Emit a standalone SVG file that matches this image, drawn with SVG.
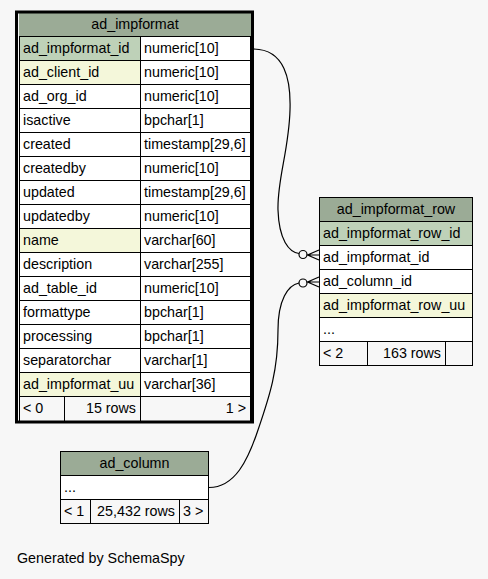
<svg xmlns="http://www.w3.org/2000/svg" width="488" height="579" viewBox="0 0 488 579">
<style>
text{font-family:"Liberation Sans",Arial,sans-serif;font-size:14.3px;fill:#000}
.c{text-anchor:middle}
.e{text-anchor:end}
.hd{fill:#9bab96}
.pk{fill:#bed1b8}
.ix{fill:#f4f7da}
.w{fill:#ffffff}
.ft{fill:#f7f7f7}
.ln{stroke:#000;stroke-width:1;fill:none}
.edge{stroke:#000;stroke-width:1.2;fill:none}
</style>
<rect width="488" height="579" fill="#f7f7f7"/>

<g id="ad_impformat">
<rect class="hd" x="19" y="13" width="232" height="23"/>
<rect class="w" x="19" y="36" width="232" height="360"/>
<rect class="pk" x="19" y="36" width="121" height="24"/>
<rect class="ix" x="19" y="60" width="121" height="24"/>
<rect class="ix" x="19" y="228" width="121" height="24"/>
<rect class="ix" x="19" y="372" width="121" height="24"/>
<rect class="ft" x="19" y="396" width="232" height="25"/>
<path class="ln" d="M19,36.5H251M19,60.5H251M19,84.5H251M19,108.5H251M19,132.5H251M19,156.5H251M19,180.5H251M19,204.5H251M19,228.5H251M19,252.5H251M19,276.5H251M19,300.5H251M19,324.5H251M19,348.5H251M19,372.5H251M19,396.5H251M19.5,36V421M140.5,36V421M250.5,36V421M64.5,396V421"/>
<rect x="16.5" y="12" width="236" height="410" fill="none" stroke="#000" stroke-width="3"/>
<text class="c" x="135" y="29">ad_impformat</text>
<text x="23" y="53">ad_impformat_id</text><text x="144" y="53">numeric[10]</text>
<text x="23" y="77">ad_client_id</text><text x="144" y="77">numeric[10]</text>
<text x="23" y="101">ad_org_id</text><text x="144" y="101">numeric[10]</text>
<text x="23" y="125">isactive</text><text x="144" y="125">bpchar[1]</text>
<text x="23" y="149">created</text><text x="144" y="149">timestamp[29,6]</text>
<text x="23" y="173">createdby</text><text x="144" y="173">numeric[10]</text>
<text x="23" y="197">updated</text><text x="144" y="197">timestamp[29,6]</text>
<text x="23" y="221">updatedby</text><text x="144" y="221">numeric[10]</text>
<text x="23" y="245">name</text><text x="144" y="245">varchar[60]</text>
<text x="23" y="269">description</text><text x="144" y="269">varchar[255]</text>
<text x="23" y="293">ad_table_id</text><text x="144" y="293">numeric[10]</text>
<text x="23" y="317">formattype</text><text x="144" y="317">bpchar[1]</text>
<text x="23" y="341">processing</text><text x="144" y="341">bpchar[1]</text>
<text x="23" y="365">separatorchar</text><text x="144" y="365">varchar[1]</text>
<text x="23" y="389">ad_impformat_uu</text><text x="144" y="389">varchar[36]</text>
<text x="23" y="413">&lt; 0</text><text class="e" x="136" y="413">15 rows</text><text class="e" x="246" y="413">1 &gt;</text>
</g>

<g id="ad_impformat_row">
<rect class="hd" x="319.5" y="197.5" width="153" height="24"/>
<rect class="pk" x="319.5" y="221.5" width="153" height="24"/>
<rect class="w" x="319.5" y="245.5" width="153" height="48"/>
<rect class="ix" x="319.5" y="293.5" width="153" height="24"/>
<rect class="w" x="319.5" y="317.5" width="153" height="24"/>
<rect class="ft" x="319.5" y="341.5" width="153" height="24"/>
<path class="ln" d="M319.5,221.5H472.5M319.5,245.5H472.5M319.5,269.5H472.5M319.5,293.5H472.5M319.5,317.5H472.5M319.5,341.5H472.5M367.5,341.5V365.5M445.5,341.5V365.5"/>
<rect class="ln" x="319.5" y="197.5" width="153" height="168"/>
<text class="c" x="396" y="214">ad_impformat_row</text>
<text x="323" y="238">ad_impformat_row_id</text>
<text x="323" y="262">ad_impformat_id</text>
<text x="323" y="286">ad_column_id</text>
<text x="323" y="310">ad_impformat_row_uu</text>
<text x="323" y="334">...</text>
<text x="323" y="358">&lt; 2</text><text class="e" x="441" y="358">163 rows</text>
</g>

<g id="ad_column">
<rect class="hd" x="60.5" y="451.5" width="148" height="24"/>
<rect class="w" x="60.5" y="475.5" width="148" height="24"/>
<rect class="ft" x="60.5" y="499.5" width="148" height="24"/>
<path class="ln" d="M60.5,475.5H208.5M60.5,499.5H208.5M90.5,499.5V523.5M179.5,499.5V523.5"/>
<rect class="ln" x="60.5" y="451.5" width="148" height="72"/>
<text class="c" x="134.5" y="468">ad_column</text>
<text x="64" y="492">...</text>
<text x="64" y="516">&lt; 1</text><text class="e" x="175" y="516">25,432 rows</text><text x="183" y="516">3 &gt;</text>
</g>

<g id="connectors">
<path class="edge" d="M253,49 C285,49 291,80 290,110 C289,150 277,180 278,210 C279,240 289,252 299,253.5"/>
<circle class="edge" cx="303" cy="254.5" r="4"/>
<path class="edge" d="M319,250 L307.5,255 L319,260 M307.5,255 L319,255"/>
<path class="edge" d="M209,487.5 C235,487.5 248,460 258,430 C270,395 278,370 278,330 C278,300 288,285 299,283"/>
<circle class="edge" cx="303" cy="283" r="4"/>
<path class="edge" d="M319,277 L307.5,282 L319,287 M307.5,282 L319,282"/>
</g>

<text x="17" y="563">Generated by SchemaSpy</text>
</svg>
